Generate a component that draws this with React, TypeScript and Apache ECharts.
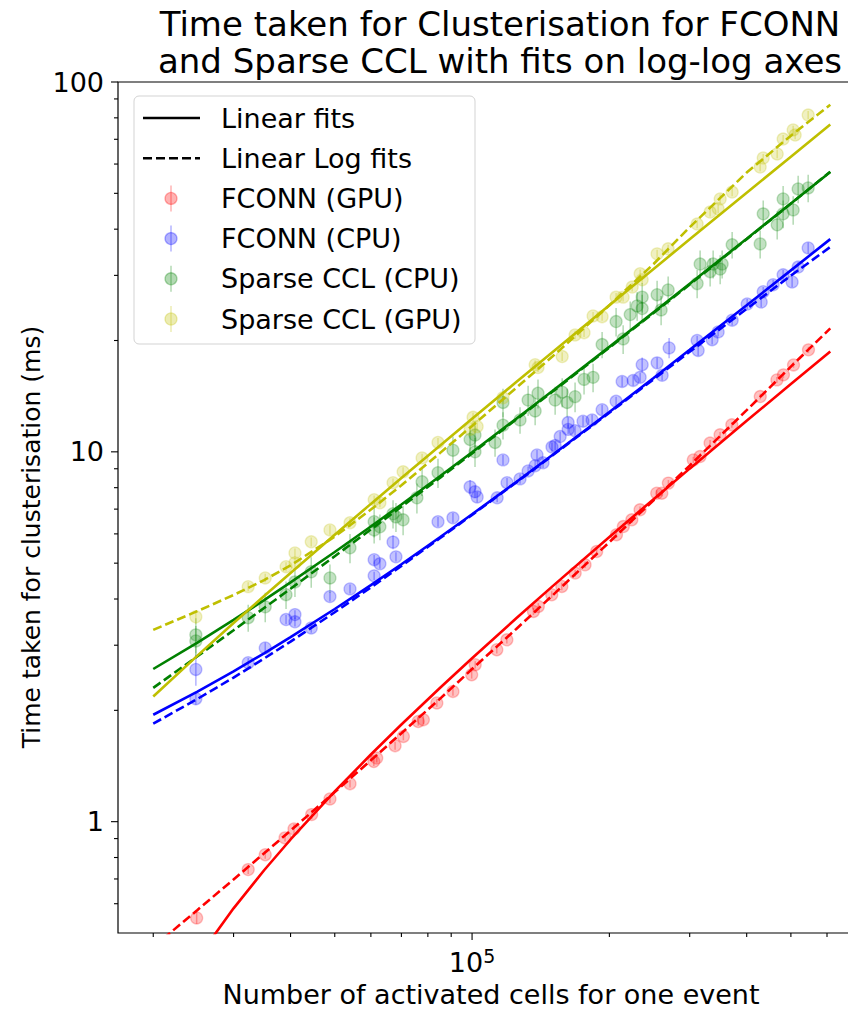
import React, { useEffect, useRef } from "react";
import * as echarts from "echarts";

// ---------- axis ranges / ticks ----------
const X_MIN = 16740;
const X_MAX = 792000;
const Y_MIN = 0.5;
const Y_MAX = 100;
const xMajorTicks = [100000];
const xMinorTicks = [20000, 30000, 40000, 50000, 60000, 70000, 80000, 90000, 200000, 300000, 400000, 500000, 600000, 700000];
const yMajorTicks = [1, 10, 100];
const yMinorTicks = [0.6, 0.7, 0.8, 0.9, 2, 3, 4, 5, 6, 7, 8, 9, 20, 30, 40, 50, 60, 70, 80, 90];

// ---------- fit curves ----------
const fitX = [20000, 25000, 30000, 35000, 40000, 50000, 60000, 70000, 85000, 100000, 125000, 150000, 200000, 250000, 300000, 400000, 500000, 610000];
const fconnGpuLinear = [0.271, 0.427, 0.583, 0.739, 0.895, 1.207, 1.519, 1.831, 2.299, 2.767, 3.547, 4.327, 5.887, 7.447, 9.007, 12.13, 15.25, 18.68];
const fconnGpuLogFit = [0.458, 0.577, 0.698, 0.821, 0.946, 1.202, 1.465, 1.735, 2.148, 2.586, 3.32, 4.087, 5.7, 7.4, 9.18, 12.96, 17.0, 21.57];
const fconnCpuLinear = [1.946, 2.248, 2.55, 2.852, 3.154, 3.759, 4.363, 4.967, 5.874, 6.78, 8.291, 9.8, 12.82, 15.84, 18.87, 24.91, 30.95, 37.6];
const fconnCpuLogFit = [1.841, 2.147, 2.453, 2.761, 3.069, 3.684, 4.298, 4.917, 5.839, 6.753, 8.266, 9.771, 12.76, 15.71, 18.64, 24.36, 29.96, 35.8];
const cclCpuLinear = [2.587, 3.049, 3.511, 3.973, 4.435, 5.359, 6.283, 7.207, 8.593, 9.979, 12.29, 14.6, 19.22, 23.84, 28.46, 37.7, 46.94, 57.1];
const cclCpuLogFit = [2.3, 2.801, 3.293, 3.782, 4.264, 5.222, 6.168, 7.107, 8.505, 9.906, 12.23, 14.53, 19.13, 23.74, 28.34, 37.59, 46.9, 57.2];
const cclGpuLinear = [2.18, 2.812, 3.443, 4.075, 4.706, 5.969, 7.232, 8.495, 10.39, 12.28, 15.44, 18.6, 24.91, 31.23, 37.54, 50.17, 62.8, 76.7];
const cclGpuLogFit = [3.3, 3.71, 4.1, 4.5, 4.93, 5.9, 6.98, 8.12, 9.92, 11.75, 14.9, 18.1, 24.9, 32.2, 40.5, 56.9, 71.6, 86.8];

// ---------- measurements: [cells, ms, error] ----------
const fconnGpuPoints = [
  [24900, 0.549, 0.02], [32300, 0.742, 0.02], [35200, 0.814, 0.02], [38900, 0.904, 0.02], [40700, 0.956, 0.03],
  [44500, 1.045, 0.03], [48800, 1.152, 0.03], [54000, 1.267, 0.03], [60900, 1.455, 0.04], [61800, 1.486, 0.04],
  [67800, 1.605, 0.04], [70700, 1.7, 0.04], [76200, 1.866, 0.05], [78200, 1.887, 0.05], [83700, 2.094, 0.05],
  [90800, 2.25, 0.06], [99800, 2.497, 0.06], [101600, 2.657, 0.06], [113300, 2.917, 0.07], [119200, 3.103, 0.07],
  [136300, 3.702, 0.08], [139700, 3.818, 0.08], [149500, 4.108, 0.09], [157300, 4.325, 0.1], [168300, 4.7, 0.1],
  [176900, 4.95, 0.1], [187600, 5.377, 0.12], [207300, 5.97, 0.12], [214600, 6.28, 0.13], [224000, 6.55, 0.13],
  [233500, 6.97, 0.14], [254000, 7.73, 0.15], [260600, 7.73, 0.15], [269400, 8.23, 0.16], [305500, 9.51, 0.18],
  [316100, 9.71, 0.18], [332500, 10.56, 0.2], [349700, 11.12, 0.2], [371100, 11.83, 0.22], [428400, 14.11, 0.25],
  [465900, 15.65, 0.28], [481600, 16.15, 0.3], [506700, 17.18, 0.3], [546500, 18.87, 0.35],
];
const fconnCpuPoints = [
  [24800, 2.58, 0.25], [24800, 2.15, 0.08], [32300, 2.69, 0.08], [35200, 2.95, 0.1], [39100, 3.52, 0.1],
  [40900, 3.63, 0.1], [40900, 3.47, 0.1], [44400, 3.34, 0.1], [48800, 4.06, 0.12], [54000, 4.26, 0.12],
  [61000, 5.11, 0.15], [62800, 4.98, 0.15], [61000, 4.62, 0.12], [67100, 5.7, 0.25], [68100, 5.2, 0.15],
  [84200, 6.47, 0.2], [90800, 6.63, 0.2], [99000, 8.04, 0.35], [101500, 7.8, 0.3], [102600, 7.55, 0.25],
  [113500, 7.51, 0.2], [116900, 9.51, 0.3], [119300, 8.25, 0.25], [127400, 8.45, 0.25], [132700, 8.88, 0.25],
  [137500, 9.17, 0.3], [138800, 9.81, 0.3], [143100, 9.34, 0.3], [149700, 10.3, 0.3], [152100, 10.4, 0.3],
  [156000, 11.0, 0.35], [162400, 11.5, 0.35], [162400, 12.0, 0.4], [168200, 11.4, 0.35], [175100, 12.1, 0.4],
  [183300, 12.2, 0.4], [192800, 13.0, 0.4], [206900, 13.7, 0.4], [213300, 15.5, 0.5], [225500, 15.6, 0.5],
  [233600, 15.9, 0.5], [236000, 17.2, 0.8], [254500, 17.4, 0.6], [261000, 16.1, 0.5], [270400, 19.1, 1.2],
  [311500, 20.0, 0.6], [313100, 18.8, 0.6], [336000, 20.1, 0.6], [346300, 21.1, 0.6], [371700, 22.7, 0.7],
  [401000, 25.1, 0.8], [430400, 25.4, 0.8], [434800, 27.1, 0.8], [457200, 28.3, 0.9], [480800, 30.1, 0.9],
  [503100, 28.8, 0.9], [518700, 31.6, 1.0], [545600, 35.6, 1.2],
];
const cclCpuPoints = [
  [24800, 3.2, 0.35], [24800, 3.08, 0.3], [32300, 3.56, 0.3], [35200, 3.81, 0.35], [39100, 4.11, 0.35],
  [40900, 4.45, 0.4], [44400, 4.74, 0.45], [48800, 4.56, 0.4], [54000, 5.5, 0.5], [61000, 6.47, 0.6],
  [61000, 6.15, 0.5], [62800, 6.27, 0.5], [67100, 6.8, 0.6], [68100, 6.67, 0.6], [70600, 6.55, 0.6],
  [75700, 7.51, 0.7], [77700, 8.3, 0.7], [84200, 8.78, 0.8], [90800, 10.1, 0.9], [99000, 10.8, 0.9],
  [101500, 11.1, 1.0], [101500, 10.0, 0.9], [112300, 10.6, 0.9], [116900, 11.8, 1.0], [116900, 13.6, 1.2],
  [127400, 12.2, 1.0], [132700, 13.8, 1.3], [137500, 12.9, 1.1], [139500, 14.4, 1.3], [152100, 13.8, 1.2],
  [157600, 14.5, 1.3], [161600, 13.6, 1.2], [168200, 14.1, 1.3], [176000, 15.7, 1.4], [184200, 15.9, 1.4],
  [192800, 19.5, 1.6], [206900, 22.5, 2.0], [214400, 20.2, 1.8], [222200, 23.5, 2.0], [230100, 24.8, 2.2],
  [236000, 26.2, 2.4], [236000, 24.4, 2.2], [254500, 26.6, 2.4], [259700, 24.2, 2.2], [269100, 27.4, 2.4],
  [311500, 28.5, 2.5], [316200, 32.2, 2.8], [332600, 30.7, 2.7], [337700, 32.2, 2.8], [349900, 31.2, 2.8],
  [353400, 32.2, 2.8], [371700, 36.3, 3.0], [428200, 36.5, 3.2], [434800, 44.0, 3.8], [466600, 41.1, 3.6],
  [480800, 44.0, 3.8], [480800, 48.3, 4.0], [505800, 45.1, 4.0], [518700, 51.4, 4.4], [545600, 51.7, 4.4],
];
const cclGpuPoints = [
  [24800, 3.58, 0.15], [32300, 4.32, 0.12], [35200, 4.56, 0.12], [39100, 4.89, 0.14], [40900, 5.33, 0.15],
  [40900, 5.01, 0.15], [44400, 5.71, 0.16], [48800, 6.15, 0.18], [54000, 6.43, 0.18], [61000, 7.42, 0.2],
  [62800, 7.28, 0.2], [67100, 8.25, 0.22], [70600, 8.83, 0.25], [77700, 9.63, 0.25], [84200, 10.6, 0.3],
  [99000, 11.5, 0.3], [100500, 12.4, 0.35], [102600, 11.7, 0.3], [116900, 14.0, 0.4], [137500, 17.2, 0.45],
  [139500, 16.9, 0.45], [157600, 18.1, 0.5], [168200, 20.7, 0.55], [176000, 21.0, 0.55], [184200, 23.3, 0.6],
  [192800, 23.2, 0.6], [206900, 26.2, 0.7], [214400, 26.2, 0.7], [224400, 27.9, 0.75], [233600, 30.3, 0.8],
  [236000, 29.2, 0.8], [254500, 34.3, 0.9], [269100, 35.4, 0.9], [311500, 41.3, 1.1], [332600, 44.5, 1.2],
  [346300, 45.4, 1.2], [349900, 48.3, 1.3], [371700, 50.4, 1.3], [428200, 58.9, 1.5], [434800, 62.3, 1.6],
  [466600, 63.9, 1.7], [480800, 70.1, 1.8], [505800, 74.2, 1.9], [510900, 71.9, 1.9], [545600, 81.4, 2.1],
];

const titleLines = ["Time taken for Clusterisation for FCONN", "and Sparse CCL with fits on log-log axes"];
const xAxisName = "Number of activated cells for one event";
const yAxisName = "Time taken for clusterisation (ms)";
const legendFitLabels = ["Linear fits", "Linear Log fits"];

const FONT = "DejaVu Sans";
const CHART_W = 900; // wider than the 848px view: the right part of the axes is cropped, as in the picture
const CHART_H = 1010;

type SeriesDef = { name: string; rgb: string; points: number[][]; linear: number[]; logFit: number[] };
const seriesDefs: SeriesDef[] = [
  { name: "FCONN (GPU)", rgb: "255,0,0", points: fconnGpuPoints, linear: fconnGpuLinear, logFit: fconnGpuLogFit },
  { name: "FCONN (CPU)", rgb: "0,0,255", points: fconnCpuPoints, linear: fconnCpuLinear, logFit: fconnCpuLogFit },
  { name: "Sparse CCL (CPU)", rgb: "0,128,0", points: cclCpuPoints, linear: cclCpuLinear, logFit: cclCpuLogFit },
  { name: "Sparse CCL (GPU)", rgb: "191,191,0", points: cclGpuPoints, linear: cclGpuLinear, logFit: cclGpuLogFit },
];

function isPow10(v: number) {
  const l = Math.log10(v);
  return Math.abs(l - Math.round(l)) < 1e-6;
}

export default function App() {
  const ref = useRef<HTMLDivElement>(null);
  useEffect(() => {
    if (!ref.current) return;
    const chart = echarts.init(ref.current, undefined, { renderer: "svg" });

    const series: any[] = [];
    seriesDefs.forEach((d) => {
      const rgba = `rgba(${d.rgb},0.3)`;
      series.push({
        type: "custom",
        name: d.name + " err",
        data: d.points.map((p) => [p[0], p[1], p[2]]),
        encode: { x: 0, y: 1 },
        clip: true,
        silent: true,
        z: 2,
        renderItem: (_params: any, api: any) => {
          const x = api.value(0);
          const y = api.value(1);
          const e = api.value(2);
          const p1 = api.coord([x, Math.max(y - e, 1e-6)]);
          const p2 = api.coord([x, y + e]);
          return {
            type: "line",
            shape: { x1: p1[0], y1: p1[1], x2: p2[0], y2: p2[1] },
            style: { stroke: rgba, lineWidth: 1.5 },
          };
        },
      });
      series.push({
        type: "scatter",
        name: d.name,
        data: d.points.map((p) => [p[0], p[1]]),
        symbol: "circle",
        symbolSize: 12,
        silent: true,
        z: 3,
        itemStyle: { color: rgba, borderColor: rgba, borderWidth: 1.3 },
      });
    });
    seriesDefs.forEach((d) => {
      const col = `rgb(${d.rgb})`;
      series.push({
        type: "line",
        name: d.name + " linear",
        data: fitX.map((x, i) => [x, d.linear[i]]),
        symbol: "none",
        silent: true,
        clip: true,
        z: 4,
        lineStyle: { color: col, width: 2.6 },
      });
      series.push({
        type: "line",
        name: d.name + " log",
        data: fitX.map((x, i) => [x, d.logFit[i]]),
        symbol: "none",
        silent: true,
        clip: true,
        z: 4,
        lineStyle: { color: col, width: 2.6, type: [9, 4] },
      });
    });

    const option: any = {
      animation: false,
      backgroundColor: "#ffffff",
      textStyle: { fontFamily: FONT },
      grid: {
        left: 118,
        top: 82,
        right: CHART_W - 882,
        bottom: 77,
        outerBoundsMode: "none",
        containLabel: false,
        show: true,
        borderColor: "#000",
        borderWidth: 1.2,
        backgroundColor: "transparent",
      },
      xAxis: {
        type: "log",
        min: X_MIN,
        max: X_MAX,
        axisLine: { show: false },
        axisTick: { show: false },
        splitLine: { show: false },
        minorTick: { show: false },
        axisLabel: {
          margin: 13,
          color: "#000",
          formatter: (v: number) => {
            if (!isPow10(v)) return "";
            return `{b|10}{s|${Math.round(Math.log10(v))}}`;
          },
          rich: {
            b: { fontFamily: FONT, fontSize: 27, lineHeight: 32, color: "#000" },
            s: { fontFamily: FONT, fontSize: 19, lineHeight: 22, verticalAlign: "top", color: "#000" },
          },
        },
      },
      yAxis: {
        type: "log",
        min: Y_MIN,
        max: Y_MAX,
        axisLine: { show: false },
        axisTick: { show: false },
        splitLine: { show: false },
        axisLabel: {
          margin: 14,
          color: "#000",
          fontFamily: FONT,
          fontSize: 27,
          formatter: (v: number) => (isPow10(v) && v >= 1 ? String(Math.round(v)) : ""),
        },
      },
      series,
    };
    chart.setOption(option);

    // ticks drawn from the axis scales
    const xLeft = chart.convertToPixel({ xAxisIndex: 0 }, X_MIN) as number;
    const yBottom = chart.convertToPixel({ yAxisIndex: 0 }, Y_MIN) as number;
    const tickEls: any[] = [];
    const addX = (vals: number[], len: number) =>
      vals.forEach((v) => {
        const px = chart.convertToPixel({ xAxisIndex: 0 }, v) as number;
        tickEls.push({ type: "line", shape: { x1: px, y1: yBottom, x2: px, y2: yBottom + len }, style: { stroke: "#000", lineWidth: 1.1 } });
      });
    const addY = (vals: number[], len: number) =>
      vals.forEach((v) => {
        const py = chart.convertToPixel({ yAxisIndex: 0 }, v) as number;
        tickEls.push({ type: "line", shape: { x1: xLeft - len, y1: py, x2: xLeft, y2: py }, style: { stroke: "#000", lineWidth: 1.1 } });
      });
    addX(xMajorTicks, 7);
    addX(xMinorTicks, 4);
    addY(yMajorTicks, 7);
    addY(yMinorTicks, 4);

    // legend
    const legendEls: any[] = [];
    const rowY = (i: number) => 118 + i * 40.2;
    legendEls.push({
      type: "rect",
      shape: { x: 134, y: 96, width: 341, height: 248, r: 5 },
      style: { fill: "rgba(255,255,255,0.8)", stroke: "#d3d3d3", lineWidth: 1 },
      z: 10,
    });
    legendFitLabels.forEach((lab, i) => {
      legendEls.push({
        type: "line",
        shape: { x1: 143, y1: rowY(i), x2: 200, y2: rowY(i) },
        style: { stroke: "#000", lineWidth: 2.6, lineDash: i === 1 ? [9, 4] : null },
        z: 11,
      });
      legendEls.push({
        type: "text",
        x: 221,
        y: rowY(i),
        style: { text: lab, fontFamily: FONT, fontSize: 27, fill: "#000", verticalAlign: "middle", align: "left" },
        z: 11,
      });
    });
    seriesDefs.forEach((d, k) => {
      const i = k + 2;
      const y = rowY(i);
      const rgba = `rgba(${d.rgb},0.3)`;
      legendEls.push({
        type: "line",
        shape: { x1: 171, y1: y - 13, x2: 171, y2: y + 13 },
        style: { stroke: rgba, lineWidth: 1.5 },
        z: 11,
      });
      legendEls.push({
        type: "circle",
        shape: { cx: 171, cy: y, r: 6 },
        style: { fill: rgba, stroke: rgba, lineWidth: 1.3 },
        z: 11,
      });
      legendEls.push({
        type: "text",
        x: 221,
        y,
        style: { text: d.name, fontFamily: FONT, fontSize: 27, fill: "#000", verticalAlign: "middle", align: "left" },
        z: 11,
      });
    });

    const titleEls = titleLines.map((t, i) => ({
      type: "text",
      x: 500,
      y: 24 + i * 37,
      style: { text: t, fontFamily: FONT, fontSize: 34, fill: "#000", align: "center", verticalAlign: "middle" },
      z: 11,
    }));

    const yNameEl = {
      type: "text",
      x: 31,
      y: 537,
      rotation: Math.PI / 2,
      style: { text: yAxisName, fontFamily: FONT, fontSize: 25, fill: "#000", align: "center", verticalAlign: "middle" },
      z: 11,
    };
    const xNameEl = {
      type: "text",
      x: 491,
      y: 994,
      style: { text: xAxisName, fontFamily: FONT, fontSize: 27, fill: "#000", align: "center", verticalAlign: "middle" },
      z: 11,
    };

    chart.setOption({ graphic: [...tickEls, ...legendEls, ...titleEls, yNameEl, xNameEl] });

    return () => chart.dispose();
  }, []);

  return (
    <div style={{ position: "absolute", left: 0, top: 0, width: 848, height: CHART_H, overflow: "hidden", background: "#fff" }}>
      <div ref={ref} style={{ width: CHART_W, height: CHART_H }} />
    </div>
  );
}
